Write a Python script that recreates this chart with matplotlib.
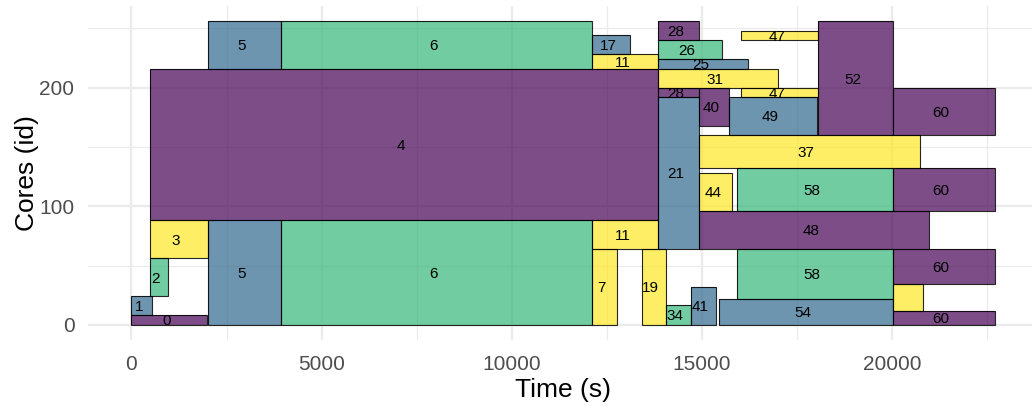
import matplotlib.pyplot as plt
from matplotlib.patches import Rectangle
from matplotlib.ticker import MultipleLocator

plt.rcParams['font.family'] = ['Liberation Sans', 'DejaVu Sans']

# one row per drawn block (split jobs appear more than once)
job = ['0', '1', '2', '3', '4', '5', '5', '6', '6', '7', '11', '11', '17', '19',
       '21', '25', '26', '28', '28', '31', '34', '37', '40', '41', '44', '47', '47',
       '48', '49', '52', '54', '58', '58', '60', '60', '60', '60', '']
start = [0, 0, 490, 490, 490, 2020, 2020, 3940, 3940, 12120, 12120, 12120, 12120, 13420,
         13850, 13850, 13850, 13850, 13850, 13850, 14050, 14920, 14920, 14710, 14920, 16020, 16020,
         14920, 15720, 18060, 15455, 15915, 15915, 20010, 20010, 20010, 20010, 20010]
end = [1990, 545, 950, 2020, 13850, 3940, 3940, 12120, 12120, 12755, 13850, 13850, 13110, 14050,
       14920, 16220, 15520, 14920, 14920, 16990, 14710, 20720, 15720, 15360, 15800, 18060, 18060,
       20955, 18020, 20010, 20010, 20010, 20010, 22710, 22710, 22710, 22710, 20800]
core_lo = [0, 8, 24, 56, 88, 0, 216, 0, 216, 0, 64, 216, 228, 0,
           64, 216, 224, 240, 192, 200, 0, 132, 168, 0, 96, 240, 192,
           64, 160, 160, 0, 96, 22, 160, 96, 34, 0, 12]
core_hi = [8, 24, 56, 88, 216, 88, 256, 88, 256, 64, 88, 228, 244, 64,
           192, 224, 240, 256, 200, 216, 17, 160, 200, 32, 128, 248, 200,
           96, 192, 256, 22, 132, 64, 200, 132, 64, 12, 34]
group = [0, 1, 2, 3, 0, 1, 1, 2, 2, 3, 3, 3, 1, 3,
         1, 1, 2, 0, 0, 3, 2, 3, 0, 1, 3, 3, 3,
         0, 1, 0, 1, 2, 2, 0, 0, 0, 0, 3]

palette = ['#440154', '#31688E', '#35B779', '#FDE725']

fig = plt.figure(figsize=(10.32, 4.07), dpi=100)
ax = fig.add_axes([88.3 / 1032, 67 / 407, (1038.5 - 88.3) / 1032, 334 / 407])

for j, s, e, lo, hi, g in zip(job, start, end, core_lo, core_hi, group):
    ax.add_patch(Rectangle((s, lo), e - s, hi - lo, facecolor=palette[g], alpha=0.7,
                           edgecolor='none', zorder=2))
    ax.add_patch(Rectangle((s, lo), e - s, hi - lo, facecolor='none',
                           edgecolor=(0, 0, 0, 0.85), linewidth=0.8, zorder=3))
    if j:
        ax.annotate(j, ((s + e) / 2, (lo + hi) / 2), xytext=(-2.2, -1.0),
                    textcoords='offset points', ha='center', va='center',
                    fontsize=11, color='black', zorder=4)

xmax = max(end)
ymax = max(core_hi)
ax.set_xlim(-0.05 * xmax, 1.05 * xmax)
ax.set_ylim(-0.05 * ymax, 1.05 * ymax)

ax.xaxis.set_major_locator(MultipleLocator(5000))
ax.xaxis.set_minor_locator(MultipleLocator(2500))
ax.yaxis.set_major_locator(MultipleLocator(100))
ax.yaxis.set_minor_locator(MultipleLocator(50))
ax.grid(which='major', color='#EBEBEB', linewidth=1.6, zorder=0)
ax.grid(which='minor', color='#EBEBEB', linewidth=0.9, zorder=0)
ax.set_axisbelow(True)
ax.tick_params(which='both', length=0, labelsize=15, labelcolor='#4D4D4D')
ax.tick_params(axis='x', pad=11)
ax.tick_params(axis='y', pad=10)
for sp in ax.spines.values():
    sp.set_visible(False)

ax.set_xlabel('Time (s)', fontsize=19, labelpad=3)
ax.set_ylabel('Cores (id)', fontsize=19, labelpad=0.5)

fig.savefig('out.png', dpi=100)
